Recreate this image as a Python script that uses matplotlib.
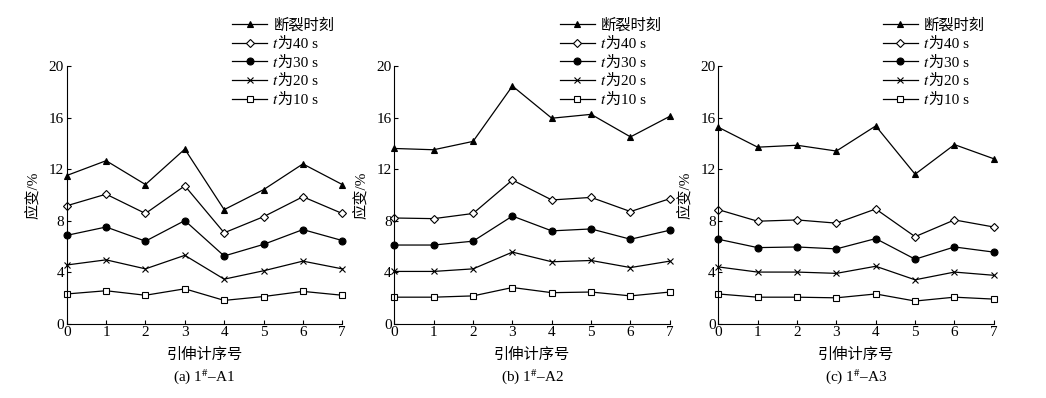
import numpy as np
import matplotlib
matplotlib.use('Agg')
import matplotlib.pyplot as plt

plt.rcParams['font.family'] = ['Liberation Serif', 'Noto Sans CJK SC', 'STIXGeneral', 'DejaVu Serif']
plt.rcParams['mathtext.fontset'] = 'stix'
plt.rcParams['font.size'] = 11

x = np.arange(8)
xlabel = '引伸计序号'
ylabel = '应变/%'
series_labels = ['断裂时刻', '\U0001D461为40 s', '\U0001D461为30 s', '\U0001D461为20 s', '\U0001D461为10 s']
captions = ['(a) 1$^{\\#}$–A1', '(b) 1$^{\\#}$–A2', '(c) 1$^{\\#}$–A3']

# panel (a)
a1_break = [11.5, 12.65, 10.8, 13.55, 8.85, 10.4, 12.4, 10.8]
a1_40 = [9.15, 10.05, 8.55, 10.7, 7.05, 8.3, 9.85, 8.55]
a1_30 = [6.85, 7.5, 6.4, 8.0, 5.25, 6.15, 7.3, 6.45]
a1_20 = [4.55, 4.95, 4.25, 5.3, 3.45, 4.1, 4.85, 4.25]
a1_10 = [2.3, 2.55, 2.2, 2.7, 1.8, 2.1, 2.5, 2.2]

# panel (b)
a2_break = [13.6, 13.5, 14.15, 18.45, 15.95, 16.25, 14.5, 16.1]
a2_40 = [8.2, 8.15, 8.55, 11.15, 9.6, 9.8, 8.7, 9.7]
a2_30 = [6.1, 6.1, 6.4, 8.35, 7.2, 7.35, 6.55, 7.25]
a2_20 = [4.05, 4.05, 4.25, 5.55, 4.8, 4.9, 4.35, 4.85]
a2_10 = [2.05, 2.05, 2.15, 2.8, 2.4, 2.45, 2.15, 2.45]

# panel (c)
a3_break = [15.25, 13.7, 13.85, 13.4, 15.35, 11.6, 13.9, 12.8]
a3_40 = [8.85, 7.95, 8.05, 7.8, 8.9, 6.75, 8.05, 7.5]
a3_30 = [6.55, 5.9, 5.95, 5.8, 6.6, 5.0, 5.95, 5.55]
a3_20 = [4.4, 4.0, 4.0, 3.9, 4.45, 3.4, 4.0, 3.75]
a3_10 = [2.3, 2.05, 2.05, 2.0, 2.3, 1.75, 2.05, 1.9]

panels = [
    [a1_break, a1_40, a1_30, a1_20, a1_10],
    [a2_break, a2_40, a2_30, a2_20, a2_10],
    [a3_break, a3_40, a3_30, a3_20, a3_10],
]

styles = [
    dict(marker='^', mfc='black'),
    dict(marker='D', mfc='white', markersize=4.5),
    dict(marker='o', mfc='black'),
    dict(marker='x', mfc='black'),
    dict(marker='s', mfc='white', markersize=4.5),
]

fig = plt.figure(figsize=(10.46, 3.98), dpi=100)
lefts = [0.0638, 0.377, 0.6867]
leg_x = [0.222, 0.535, 0.844]

for i, data in enumerate(panels):
    ax = fig.add_axes([lefts[i], 0.187, 0.2634, 0.647])
    for vals, lab, st in zip(data, series_labels, styles):
        kw = dict(color='black', lw=0.9, mec='black', mew=0.8, markersize=5)
        kw.update(st)
        ax.plot(x, vals, label=lab, clip_on=False, **kw)
    ax.set_xlim(0, 7)
    ax.set_ylim(0, 20)
    ax.set_xticks(range(8))
    ax.set_yticks([0, 4, 8, 12, 16, 20])
    ax.tick_params(direction='in', length=3, width=0.8, pad=2)
    for s in ['top', 'right']:
        ax.spines[s].set_visible(False)
    for s in ['left', 'bottom']:
        ax.spines[s].set_linewidth(0.8)
    ax.set_xlabel(xlabel, labelpad=6)
    ax.set_ylabel(ylabel, labelpad=6)
    ax.text(0.5, -0.205, captions[i], transform=ax.transAxes, ha='center', va='center')
    ax.legend(loc='upper left', bbox_to_anchor=(leg_x[i], 0.955),
              bbox_transform=fig.transFigure, frameon=False, borderpad=0,
              borderaxespad=0, handlelength=2.3, handletextpad=0.4,
              labelspacing=0.3)

fig.savefig('out.png', dpi=100)
